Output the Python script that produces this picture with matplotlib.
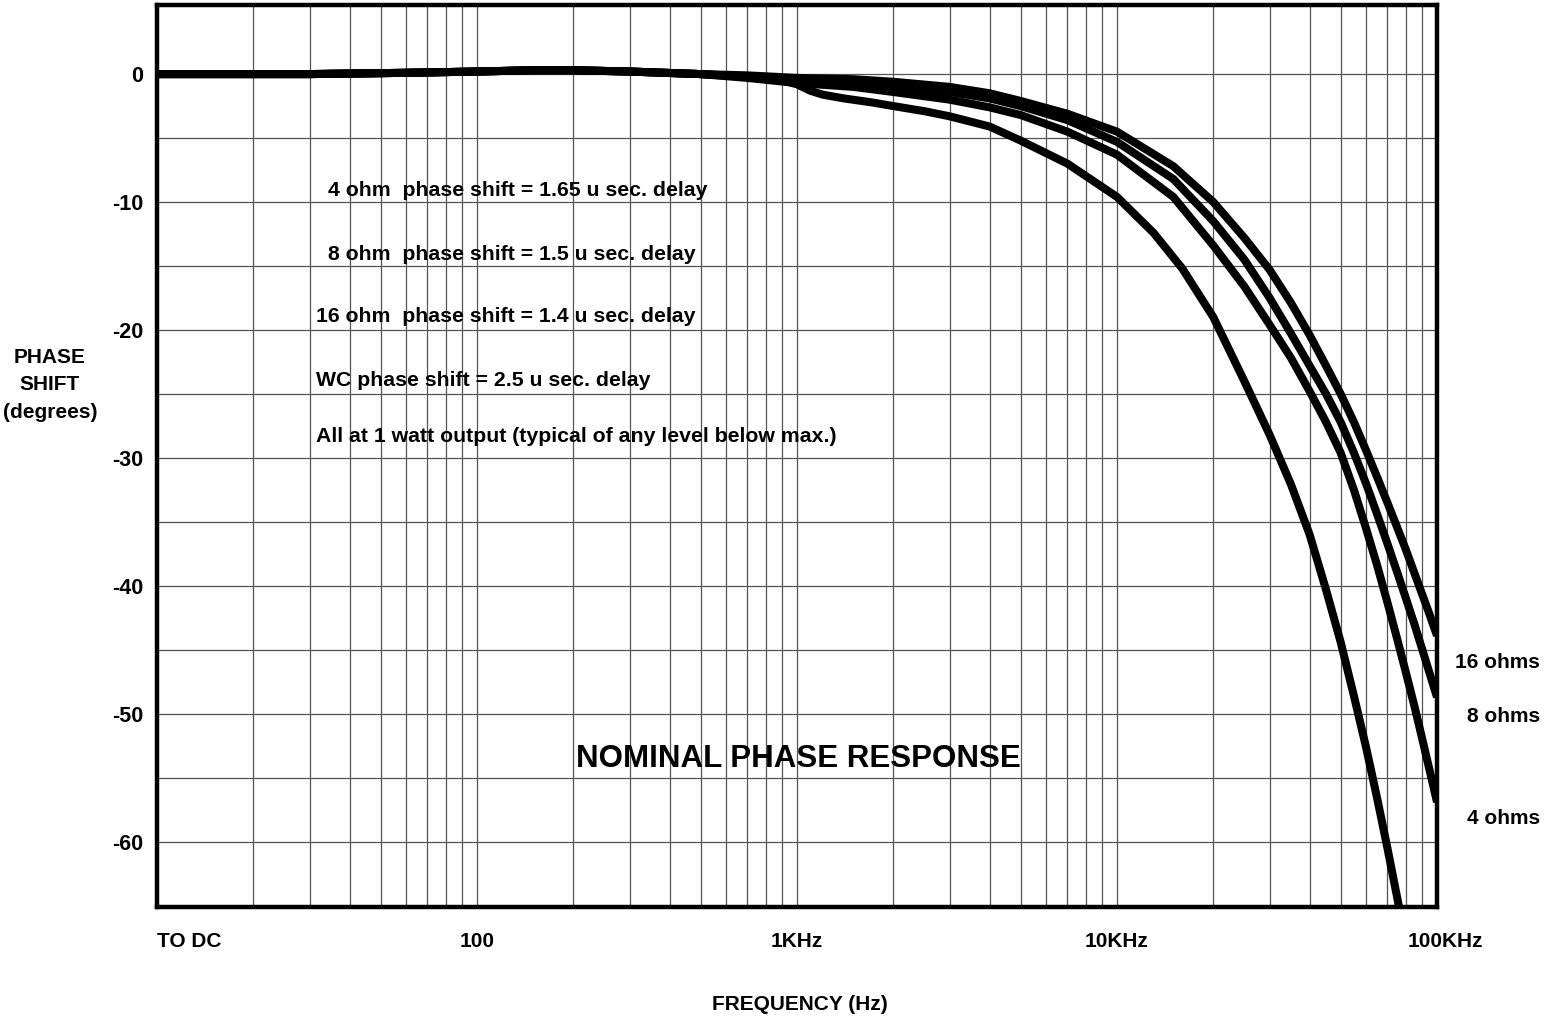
import numpy as np
import matplotlib
matplotlib.use('Agg')
import matplotlib.pyplot as plt
from matplotlib.ticker import FixedLocator, FixedFormatter, NullFormatter
from matplotlib.transforms import ScaledTranslation

# frequencies (Hz) for the three load curves
freq = [10, 30, 60, 100, 150, 200, 300, 500, 700, 1000, 1500, 2000, 3000, 4000,
        5000, 7000, 10000, 15000, 20000, 25000, 30000, 35000, 40000, 45000,
        50000, 55000, 60000, 65000, 70000, 75000, 80000, 85000, 90000, 95000,
        100000]

phase_16 = [0, 0, 0.1, 0.2, 0.3, 0.3, 0.2, 0.0, -0.1, -0.3, -0.4, -0.6, -1.0, -1.5,
            -2.1, -3.1, -4.5, -7.2, -10.0, -12.8, -15.3, -17.9, -20.4, -22.8,
            -25.0, -27.2, -29.4, -31.5, -33.5, -35.4, -37.2, -39.0, -40.7, -42.3,
            -43.9]
phase_8 = [0, 0, 0.1, 0.2, 0.3, 0.3, 0.2, 0.0, -0.2, -0.5, -0.7, -1.0, -1.4, -1.9,
           -2.5, -3.6, -5.3, -8.2, -11.5, -14.5, -17.5, -20.3, -22.8, -25.0,
           -27.2, -29.6, -32.0, -34.4, -36.7, -38.9, -41.0, -43.0, -45.0, -46.9,
           -48.7]
phase_4 = [0, 0, 0.1, 0.2, 0.3, 0.3, 0.2, 0.0, -0.3, -0.7, -1.0, -1.4, -2.0, -2.6,
           -3.2, -4.5, -6.3, -9.6, -13.4, -16.6, -19.6, -22.2, -24.8, -27.2,
           -29.6, -32.5, -35.5, -38.4, -41.3, -44.1, -46.8, -49.4, -52.0, -54.5,
           -56.9]

# WC curve
freq_wc = [10, 30, 60, 100, 150, 200, 300, 500, 700, 900, 1000, 1100, 1200, 1400,
           1700, 2000, 2500, 3000, 4000, 5000, 7000, 10000, 13000, 16000, 20000,
           25000, 30000, 35000, 40000, 45000, 50000, 55000, 60000, 65000, 70000,
           75000, 80000]
phase_wc = [0, 0, 0.1, 0.2, 0.3, 0.3, 0.2, 0.0, -0.2, -0.5, -0.8, -1.3, -1.6, -1.9,
            -2.2, -2.5, -2.9, -3.3, -4.1, -5.2, -7.0, -9.6, -12.4, -15.2, -19.0,
            -24.0, -28.2, -32.1, -36.0, -40.3, -44.4, -48.6, -52.6, -56.6, -60.5,
            -64.3, -67.9]

x_ticks = [10, 100, 1000, 10000, 100000]
x_labels = ['TO DC', '100', '1KHz', '10KHz', '100KHz']
y_ticks = [0, -10, -20, -30, -40, -50, -60]
y_labels = ['0', '-10', '-20', '-30', '-40', '-50', '-60']

notes = ['4 ohm  phase shift = 1.65 u sec. delay',
         '8 ohm  phase shift = 1.5 u sec. delay',
         '16 ohm  phase shift = 1.4 u sec. delay',
         'WC phase shift = 2.5 u sec. delay',
         'All at 1 watt output (typical of any level below max.)']
curve_names = ['16 ohms', '8 ohms', '4 ohms']

plt.rcParams['font.family'] = ['Liberation Sans', 'DejaVu Sans']
plt.rcParams['font.weight'] = 'bold'

W, H = 1546, 1024
fig = plt.figure(figsize=(W / 100, H / 100), dpi=100)
ax = fig.add_axes([157 / W, 1 - 907 / H, 1280 / W, 902 / H])

ax.set_xscale('log')
ax.set_xlim(10, 100000)
ax.set_ylim(-65.1, 5.4)

# grid: every log step on x, every 5 degrees on y
minor_x = [m * 10 ** d for d in range(1, 5) for m in range(2, 10)]
for xv in minor_x + x_ticks[1:-1]:
    ax.axvline(xv, color='0.33', lw=0.9, zorder=1)
for yv in np.arange(-60, 5, 5):
    ax.axhline(yv, color='0.33', lw=0.9, zorder=1)

for ph in [phase_16, phase_8, phase_4]:
    ax.plot(freq, ph, color='black', lw=5.8, solid_capstyle='butt',
            solid_joinstyle='round', zorder=3)
ax.plot(freq_wc, phase_wc, color='black', lw=5.8, solid_capstyle='butt',
        solid_joinstyle='round', zorder=3)

for s in ax.spines.values():
    s.set_linewidth(3.2)

ax.xaxis.set_major_locator(FixedLocator(x_ticks))
ax.xaxis.set_major_formatter(FixedFormatter(x_labels))
ax.xaxis.set_minor_locator(FixedLocator(minor_x))
ax.xaxis.set_minor_formatter(NullFormatter())
ax.yaxis.set_major_locator(FixedLocator(y_ticks))
ax.yaxis.set_major_formatter(FixedFormatter(y_labels))
ax.tick_params(which='both', length=0)
ax.tick_params(axis='x', pad=18, labelsize=15)
ax.tick_params(axis='y', pad=10, labelsize=15.5)
xl = ax.get_xticklabels()
xl[0].set_ha('left')
xl[-1].set_transform(xl[-1].get_transform()
                     + ScaledTranslation(0.08, 0, fig.dpi_scale_trans))
for t in ax.get_xticklabels() + ax.get_yticklabels():
    t.set_fontweight('bold')

fig.text(50 / W, 1 - 385 / H, 'PHASE\nSHIFT\n(degrees)', ha='center', va='center',
         fontsize=15, fontweight='bold', linespacing=1.55)
fig.text(800 / W, 1 - 1005 / H, 'FREQUENCY (Hz)', ha='center', va='center',
         fontsize=15, fontweight='bold')

note_pos = [(328, 190), (328, 254), (316, 317), (316, 381), (316, 436)]
for (px, py), txt in zip(note_pos, notes):
    fig.text(px / W, 1 - py / H, txt, ha='left', va='center', fontsize=15.3,
             fontweight='bold')

fig.text(798 / W, 1 - 759 / H, 'NOMINAL PHASE RESPONSE', ha='center', va='center',
         fontsize=22.5, fontweight='bold')

for name, py in zip(curve_names, [663, 716, 818]):
    fig.text(1540 / W, 1 - py / H, name, ha='right', va='center', fontsize=15,
             fontweight='bold')

fig.savefig('out.png', dpi=100)
